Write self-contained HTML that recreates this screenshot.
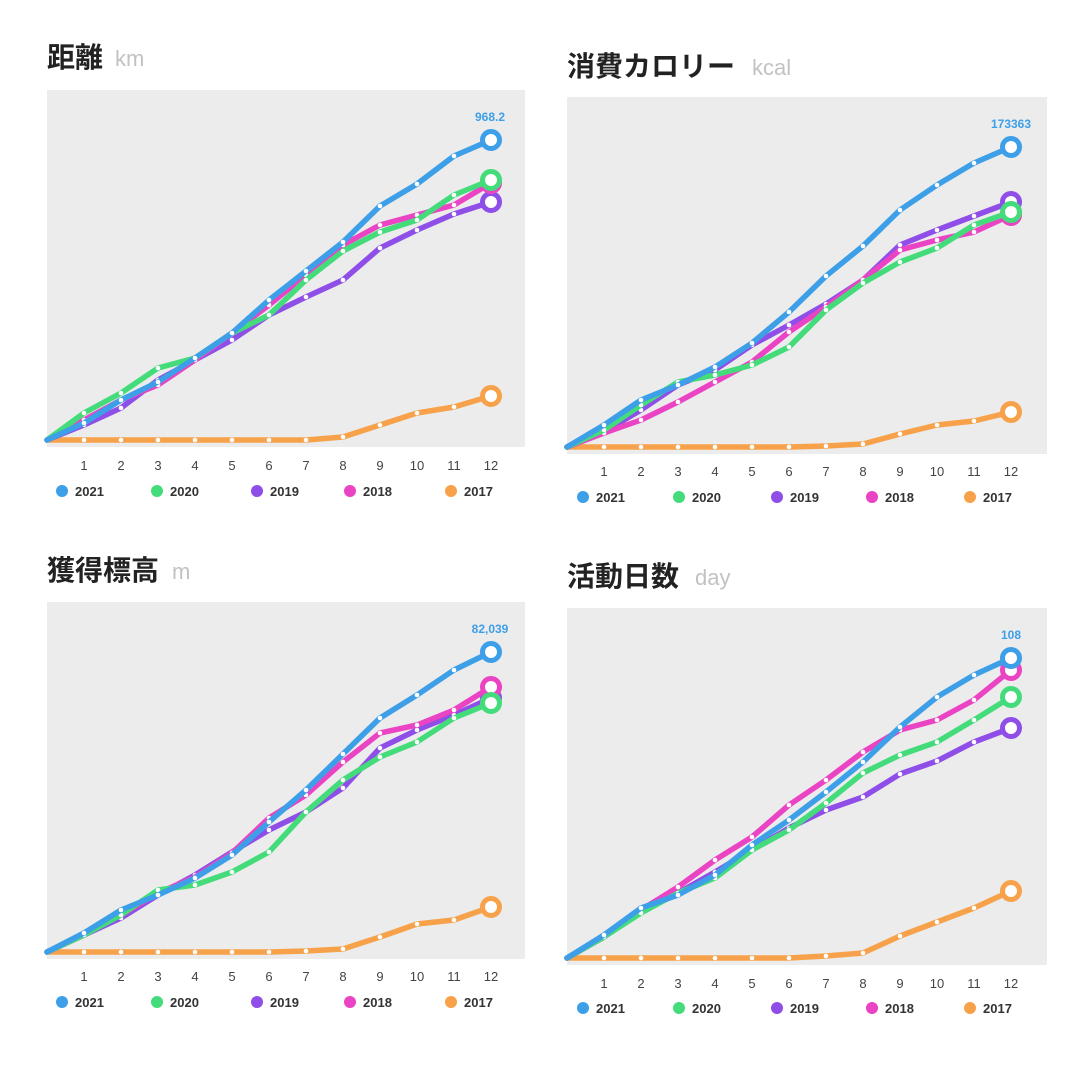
<!DOCTYPE html>
<html><head><meta charset="utf-8"><style>
html,body{margin:0;padding:0;background:#fff;width:1080px;height:1080px;overflow:hidden}
svg{display:block;font-family:"Liberation Sans","Noto Sans CJK JP",sans-serif}
.t{font-size:28px;font-weight:bold;fill:#222;font-family:"Liberation Sans","Noto Sans CJK JP",sans-serif}
.u{font-size:22px;fill:#c2c2c2}
.ax{font-size:13px;fill:#444;text-anchor:middle}
.lg{font-size:13px;font-weight:bold;fill:#333}
.v{font-size:12px;font-weight:bold;fill:#3d9fe8;text-anchor:middle}
polyline{fill:none;stroke-width:5.5;stroke-linejoin:round;stroke-linecap:round;marker-mid:url(#d)}
.b{stroke:#3d9fe8;marker-end:url(#eb)}.g{stroke:#44dc7a;marker-end:url(#eg)}.p{stroke:#8f4ee8;marker-end:url(#ep)}.k{stroke:#ea44c4;marker-end:url(#ek)}.o{stroke:#f7a24a;marker-end:url(#eo)}
</style></head><body>
<svg width="1080" height="1080" viewBox="0 0 1080 1080">
<defs>
<marker id="d" markerUnits="userSpaceOnUse" markerWidth="8" markerHeight="8" refX="4" refY="4"><circle cx="4" cy="4" r="2.3" fill="#fff"/></marker>
<marker id="eb" markerUnits="userSpaceOnUse" markerWidth="26" markerHeight="26" refX="13" refY="13"><circle cx="13" cy="13" r="8.5" fill="#fff" stroke="#3d9fe8" stroke-width="5"/></marker>
<marker id="eg" markerUnits="userSpaceOnUse" markerWidth="26" markerHeight="26" refX="13" refY="13"><circle cx="13" cy="13" r="8.5" fill="#fff" stroke="#44dc7a" stroke-width="5"/></marker>
<marker id="ep" markerUnits="userSpaceOnUse" markerWidth="26" markerHeight="26" refX="13" refY="13"><circle cx="13" cy="13" r="8.5" fill="#fff" stroke="#8f4ee8" stroke-width="5"/></marker>
<marker id="ek" markerUnits="userSpaceOnUse" markerWidth="26" markerHeight="26" refX="13" refY="13"><circle cx="13" cy="13" r="8.5" fill="#fff" stroke="#ea44c4" stroke-width="5"/></marker>
<marker id="eo" markerUnits="userSpaceOnUse" markerWidth="26" markerHeight="26" refX="13" refY="13"><circle cx="13" cy="13" r="8.5" fill="#fff" stroke="#f7a24a" stroke-width="5"/></marker>
</defs>

<!-- Panel 1 -->
<text x="47" y="67" class="t">距離</text><text x="115" y="66" class="u">km</text>
<rect x="47" y="90" width="478" height="357" fill="#ececec"/>
<polyline class="o" points="47,440 84,440 121,440 158,440 195,440 232,440 269,440 306,440 343,437 380,425 417,413 454,407 491,396"/>
<polyline class="p" points="47,440 84,425 121,408 158,380 195,360 232,340 269,315 306,297 343,280 380,248 417,230 454,214 491,202"/>
<polyline class="k" points="47,440 84,420 121,400 158,385 195,360 232,333 269,305 306,275 343,245 380,225 417,215 454,205 491,183"/>
<polyline class="g" points="47,440 84,413 121,393 158,368 195,358 232,333 269,315 306,280 343,251 380,232 417,220 454,195 491,180"/>
<polyline class="b" points="47,440 84,423 121,400 158,382 195,358 232,333 269,300 306,271 343,242 380,206 417,184 454,156 491,140"/>
<text x="490" y="121" class="v">968.2</text>
<g class="ax"><text x="84" y="470">1</text><text x="121" y="470">2</text><text x="158" y="470">3</text><text x="195" y="470">4</text><text x="232" y="470">5</text><text x="269" y="470">6</text><text x="306" y="470">7</text><text x="343" y="470">8</text><text x="380" y="470">9</text><text x="417" y="470">10</text><text x="454" y="470">11</text><text x="491" y="470">12</text></g>
<g class="lg"><circle cx="62" cy="491" r="6" fill="#3d9fe8"/><text x="75" y="496">2021</text><circle cx="157" cy="491" r="6" fill="#44dc7a"/><text x="170" y="496">2020</text><circle cx="257" cy="491" r="6" fill="#8f4ee8"/><text x="270" y="496">2019</text><circle cx="350" cy="491" r="6" fill="#ea44c4"/><text x="363" y="496">2018</text><circle cx="451" cy="491" r="6" fill="#f7a24a"/><text x="464" y="496">2017</text></g>

<!-- Panel 2 -->
<text x="567" y="76" class="t">消費カロリー</text><text x="752" y="75" class="u">kcal</text>
<rect x="567" y="97" width="480" height="357" fill="#ececec"/>
<polyline class="o" points="567,447 604,447 641,447 678,447 715,447 752,447 789,447 826,446 863,444 900,434 937,425 974,421 1011,412"/>
<polyline class="p" points="567,447 604,432 641,410 678,385 715,370 752,345 789,325 826,304 863,280 900,245 937,230 974,216 1011,202"/>
<polyline class="k" points="567,447 604,433 641,420 678,402 715,382 752,362 789,332 826,307 863,280 900,250 937,240 974,232 1011,215"/>
<polyline class="g" points="567,447 604,430 641,405 678,382 715,375 752,365 789,347 826,310 863,283 900,262 937,248 974,225 1011,212"/>
<polyline class="b" points="567,447 604,425 641,400 678,385 715,367 752,343 789,312 826,276 863,246 900,210 937,185 974,163 1011,147"/>
<text x="1011" y="128" class="v">173363</text>
<g class="ax"><text x="604" y="476">1</text><text x="641" y="476">2</text><text x="678" y="476">3</text><text x="715" y="476">4</text><text x="752" y="476">5</text><text x="789" y="476">6</text><text x="826" y="476">7</text><text x="863" y="476">8</text><text x="900" y="476">9</text><text x="937" y="476">10</text><text x="974" y="476">11</text><text x="1011" y="476">12</text></g>
<g class="lg"><circle cx="583" cy="497" r="6" fill="#3d9fe8"/><text x="596" y="502">2021</text><circle cx="679" cy="497" r="6" fill="#44dc7a"/><text x="692" y="502">2020</text><circle cx="777" cy="497" r="6" fill="#8f4ee8"/><text x="790" y="502">2019</text><circle cx="872" cy="497" r="6" fill="#ea44c4"/><text x="885" y="502">2018</text><circle cx="970" cy="497" r="6" fill="#f7a24a"/><text x="983" y="502">2017</text></g>

<!-- Panel 3 -->
<text x="47" y="580" class="t">獲得標高</text><text x="172" y="579" class="u">m</text>
<rect x="47" y="602" width="478" height="357" fill="#ececec"/>
<polyline class="o" points="47,952 84,952 121,952 158,952 195,952 232,952 269,952 306,951 343,949 380,937 417,924 454,920 491,907"/>
<polyline class="p" points="47,952 84,935 121,918 158,895 195,875 232,852 269,830 306,812 343,788 380,748 417,730 454,715 491,698"/>
<polyline class="k" points="47,952 84,935 121,915 158,893 195,877 232,853 269,818 306,795 343,762 380,733 417,725 454,710 491,687"/>
<polyline class="g" points="47,952 84,935 121,915 158,890 195,885 232,872 269,852 306,812 343,780 380,757 417,742 454,718 491,703"/>
<polyline class="b" points="47,952 84,933 121,910 158,895 195,878 232,855 269,822 306,790 343,754 380,718 417,695 454,670 491,652"/>
<text x="490" y="633" class="v">82,039</text>
<g class="ax"><text x="84" y="981">1</text><text x="121" y="981">2</text><text x="158" y="981">3</text><text x="195" y="981">4</text><text x="232" y="981">5</text><text x="269" y="981">6</text><text x="306" y="981">7</text><text x="343" y="981">8</text><text x="380" y="981">9</text><text x="417" y="981">10</text><text x="454" y="981">11</text><text x="491" y="981">12</text></g>
<g class="lg"><circle cx="62" cy="1002" r="6" fill="#3d9fe8"/><text x="75" y="1007">2021</text><circle cx="157" cy="1002" r="6" fill="#44dc7a"/><text x="170" y="1007">2020</text><circle cx="257" cy="1002" r="6" fill="#8f4ee8"/><text x="270" y="1007">2019</text><circle cx="350" cy="1002" r="6" fill="#ea44c4"/><text x="363" y="1007">2018</text><circle cx="451" cy="1002" r="6" fill="#f7a24a"/><text x="464" y="1007">2017</text></g>

<!-- Panel 4 -->
<text x="567" y="586" class="t">活動日数</text><text x="695" y="585" class="u">day</text>
<rect x="567" y="608" width="480" height="357" fill="#ececec"/>
<polyline class="o" points="567,958 604,958 641,958 678,958 715,958 752,958 789,958 826,956 863,953 900,936 937,922 974,908 1011,891"/>
<polyline class="p" points="567,958 604,937 641,910 678,893 715,872 752,850 789,828 826,810 863,797 900,774 937,761 974,742 1011,728"/>
<polyline class="k" points="567,958 604,937 641,910 678,887 715,860 752,837 789,805 826,780 863,752 900,730 937,720 974,700 1011,670"/>
<polyline class="g" points="567,958 604,937 641,913 678,893 715,878 752,850 789,830 826,803 863,773 900,755 937,742 974,720 1011,697"/>
<polyline class="b" points="567,958 604,935 641,908 678,895 715,875 752,845 789,820 826,792 863,762 900,727 937,697 974,675 1011,658"/>
<text x="1011" y="639" class="v">108</text>
<g class="ax"><text x="604" y="988">1</text><text x="641" y="988">2</text><text x="678" y="988">3</text><text x="715" y="988">4</text><text x="752" y="988">5</text><text x="789" y="988">6</text><text x="826" y="988">7</text><text x="863" y="988">8</text><text x="900" y="988">9</text><text x="937" y="988">10</text><text x="974" y="988">11</text><text x="1011" y="988">12</text></g>
<g class="lg"><circle cx="583" cy="1008" r="6" fill="#3d9fe8"/><text x="596" y="1013">2021</text><circle cx="679" cy="1008" r="6" fill="#44dc7a"/><text x="692" y="1013">2020</text><circle cx="777" cy="1008" r="6" fill="#8f4ee8"/><text x="790" y="1013">2019</text><circle cx="872" cy="1008" r="6" fill="#ea44c4"/><text x="885" y="1013">2018</text><circle cx="970" cy="1008" r="6" fill="#f7a24a"/><text x="983" y="1013">2017</text></g>
</svg>
</body></html>
